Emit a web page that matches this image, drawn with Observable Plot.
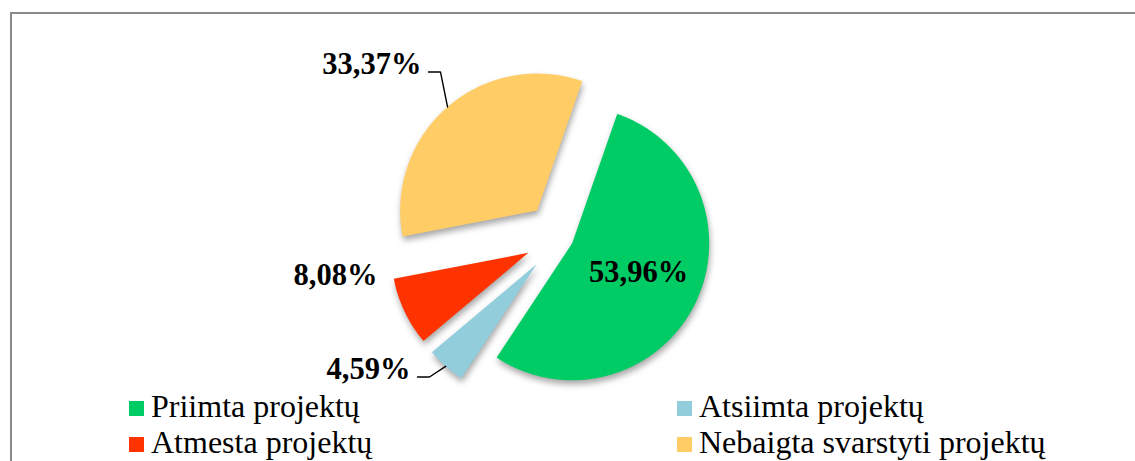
<!DOCTYPE html>
<html><head><meta charset="utf-8">
<script src="https://cdn.jsdelivr.net/npm/d3@7"></script>
<script src="https://cdn.jsdelivr.net/npm/@observablehq/plot@0.6"></script>
<style>
html,body{margin:0;padding:0;background:#fff;overflow:hidden;width:1135px;height:461px;position:relative;}
#frame{position:absolute;left:10px;top:12px;width:1200px;height:500px;border-top:2px solid #8a8a8a;border-left:2px solid #8a8a8a;box-sizing:border-box;}
#chart{position:absolute;left:0;top:0;}
#chart svg{display:block;overflow:visible;}
#legend{position:absolute;left:129px;top:388px;display:grid;grid-template-columns:548px auto;font-family:'Liberation Serif', Tinos, 'Times New Roman', serif;font-size:32px;line-height:36px;color:#000;white-space:nowrap;}
.sw{display:inline-block;width:15px;height:15px;margin-right:7px;margin-bottom:1px;vertical-align:baseline;}
#preload{position:absolute;left:0;top:0;opacity:0;font-family:'Liberation Serif';font-size:30px;pointer-events:none;}
</style></head><body>
<div id="preload">Aų <b>53,96%</b></div>
<div id="frame"></div>
<div id="chart"></div>
<div id="legend"></div>
<script>
// ---- data ----
const categories = ["Priimta projektų", "Atsiimta projektų", "Atmesta projektų", "Nebaigta svarstyti projektų"];
const shares = [53.96, 4.59, 8.08, 33.37];
const colors = ["#00CC66", "#92CDDC", "#FF3300", "#FFCC66"];

// ---- layout / style ----
const W = 1135, H = 388, CX = 560, CY = 237, R = 137;
const startAngle = 19.2;              // degrees clockwise from 12 o'clock
const explode = [0.095, 0.26, 0.26, 0.26]; // fraction of radius
const labelLayout = [
  {dA: -3, r: 0.528, anchor: "middle", leader: false},
  {dA: 8.6, r: 1.198, anchor: "end", leader: true},
  {dA: 17.2, r: 1.113, anchor: "end", leader: false},
  {dA: 2.6, r: 1.364, anchor: "end", leader: true}
];
const rad = d => d * Math.PI / 180;
const total = d3.sum(shares);

let acc = startAngle;
const slices = categories.map((cat, i) => {
  const a0 = acc, a1 = acc + shares[i] / total * 360; acc = a1;
  const mid = (a0 + a1) / 2;
  const ox = explode[i] * Math.sin(rad(mid)), oy = -explode[i] * Math.cos(rad(mid));
  return {cat, i, a0, a1, mid, ox, oy};
});

const slicePts = [];
for (const s of slices) {
  slicePts.push({cat: s.cat, x: s.ox, y: s.oy});
  const n = Math.max(2, Math.ceil((s.a1 - s.a0) / 0.5));
  for (let k = 0; k <= n; k++) {
    const t = s.a0 + (s.a1 - s.a0) * k / n;
    slicePts.push({cat: s.cat, x: s.ox + Math.sin(rad(t)), y: s.oy - Math.cos(rad(t))});
  }
  slicePts.push({cat: s.cat, x: s.ox, y: s.oy});
}

const fmt = v => v.toFixed(2).replace(".", ",") + "%";
const labels = slices.map(s => {
  const L = labelLayout[s.i];
  const a = s.mid + L.dA;
  return {cat: s.cat, text: fmt(shares[s.i]), anchor: L.anchor, leader: L.leader,
    x: s.ox + L.r * Math.sin(rad(a)), y: s.oy - L.r * Math.cos(rad(a)), s};
});

const leaderPts = [];
for (const l of labels.filter(d => d.leader)) {
  const s = l.s;
  const px = s.ox + Math.sin(rad(s.mid)), py = s.oy - Math.cos(rad(s.mid));
  const ly = l.y + 8.1 / R;
  leaderPts.push({cat: l.cat, x: l.x + 7 / R, y: ly});
  leaderPts.push({cat: l.cat, x: l.x + 19 / R, y: ly});
  leaderPts.push({cat: l.cat, x: px, y: py});
}

const textStyle = {fontFamily: "Liberation Serif", fontSize: 30.5, fontWeight: "bold", fill: "#000"};

const svg = Plot.plot({
  width: W, height: H, margin: 0,
  x: {domain: [-CX / R, (W - CX) / R], range: [0, W], axis: null},
  y: {domain: [-CY / R, (H - CY) / R], range: [0, H], axis: null},
  color: {domain: categories, range: colors},
  style: {background: "transparent", overflow: "visible"},
  marks: [
    Plot.line(slicePts, {x: "x", y: "y", z: "cat", fill: "cat", stroke: null}),
    Plot.line(leaderPts, {x: "x", y: "y", z: "cat", stroke: "#000", strokeWidth: 1.4, strokeLinejoin: "miter"}),
    Plot.text(labels.filter(d => d.anchor === "end"), {x: "x", y: "y", text: "text", textAnchor: "end", ...textStyle}),
    Plot.text(labels.filter(d => d.anchor === "middle"), {x: "x", y: "y", text: "text", textAnchor: "middle", ...textStyle})
  ]
});
const sliceG = svg.querySelector('g[aria-label="line"]');
if (sliceG) sliceG.style.filter = "drop-shadow(1px 4px 3px rgba(0,0,0,0.35))";
document.getElementById("chart").appendChild(svg);

const legend = document.getElementById("legend");
categories.forEach((c, i) => {
  const item = document.createElement("div");
  const sw = document.createElement("span");
  sw.className = "sw"; sw.style.background = colors[i];
  item.appendChild(sw);
  item.appendChild(document.createTextNode(c));
  legend.appendChild(item);
});
legend.getBoundingClientRect();
svg.getBoundingClientRect();
</script>
</body></html>
